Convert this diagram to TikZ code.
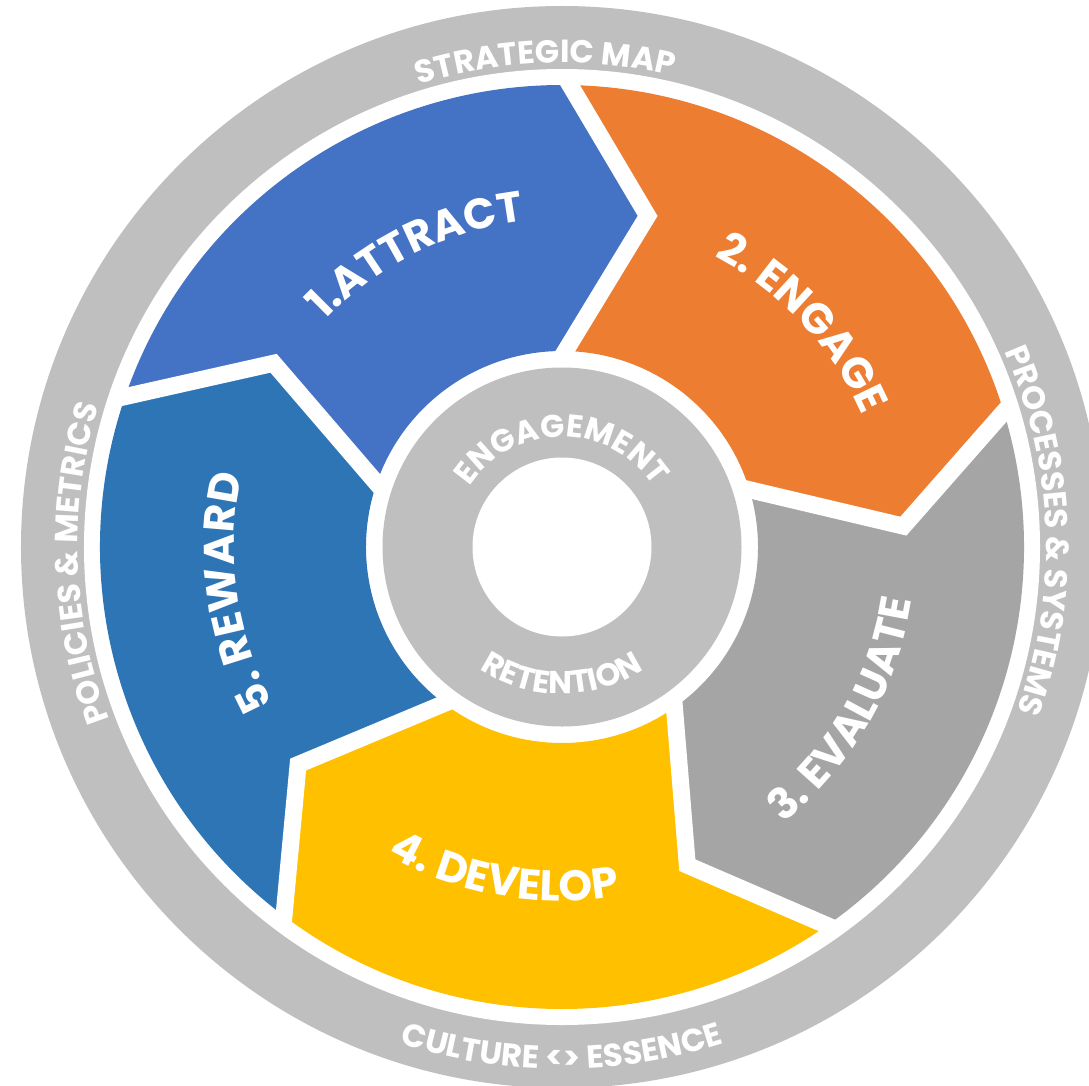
\documentclass[tikz,border=0pt]{standalone}
\usepackage{fontspec}
\setmainfont{Poppins}
\usetikzlibrary{decorations.text}

\definecolor{ringgrey}{HTML}{BFBFBF}
\definecolor{attract}{HTML}{4472C4}
\definecolor{engage}{HTML}{ED7D31}
\definecolor{evaluate}{HTML}{A5A5A5}
\definecolor{develop}{HTML}{FFC000}
\definecolor{reward}{HTML}{2E75B6}

% white caps set along an arc: radius, from, to, size, text
\newcommand{\arclabel}[5]{%
  \path[decorate,decoration={text along path,text align={center},text color=white,
      text={|\bfseries\fontsize{#4}{#4}\selectfont|#5}}]
    (#2:#1) arc[start angle=#2,end angle=#3,radius=#1];}

\begin{document}
\begin{tikzpicture}[gap/.style={draw=white,line width=1.7mm,shorten <=-1.2mm,shorten >=-1.2mm}]
  \useasboundingbox (-5.62,-5.38) rectangle (5.27,5.47);
  \clip (-5.62,-5.38) rectangle (5.27,5.47);

  % outer band
  \fill[ringgrey] (0,0) circle (5.41);
  \fill[white] (0,0) circle (4.78);

  % the five arrow segments, each from its boundary angle clockwise 72 deg
  \foreach \a/\c in {161/attract,89/engage,17/evaluate,-55/develop,-127/reward}{
    \pgfmathsetmacro{\b}{\a-72}
    \fill[\c] (\a:4.62) arc[start angle=\a,end angle=\b,radius=4.62]
      -- (\b-13.5:3.42) -- (\b:1.96)
      arc[start angle=\b,end angle=\a,radius=1.96]
      -- (\a-13.5:3.42) -- cycle;
  }
  \foreach \a in {161,89,17,-55,-127}
    \draw[gap] (\a:4.62) -- (\a-13.5:3.42) -- (\a:1.96);

  % hub
  \fill[ringgrey] (0,0) circle (1.795);
  \fill[white] (0,0) circle (0.895);

  % segment titles
  \arclabel{3.28}{166.5}{66.5}{12.2pt}{1.ATTRACT}
  \arclabel{3.28}{93}{-7}{12.2pt}{2. ENGAGE}
  \arclabel{3.54}{-80}{20}{12.2pt}{3. EVALUATE}
  \arclabel{3.54}{-150}{-50}{12.2pt}{4. DEVELOP}
  \arclabel{3.28}{238}{138}{12.2pt}{5. REWARD}

  % outer band texts
  \arclabel{4.84}{152}{32}{9.1pt}{STRATEGIC MAP}
  \arclabel{4.84}{62}{-58}{9.1pt}{PROCESSES {\&} SYSTEMS}
  \arclabel{4.84}{242}{122}{9.1pt}{POLICIES {\&} METRICS}
  \arclabel{5.22}{-150}{-30}{9.1pt}{CULTURE {<}{>} ESSENCE}

  % hub texts
  \arclabel{1.10}{170}{10}{9pt}{ENGAGEMENT}
  \arclabel{1.47}{-160}{-20}{9pt}{RETENTION}
\end{tikzpicture}
\end{document}
